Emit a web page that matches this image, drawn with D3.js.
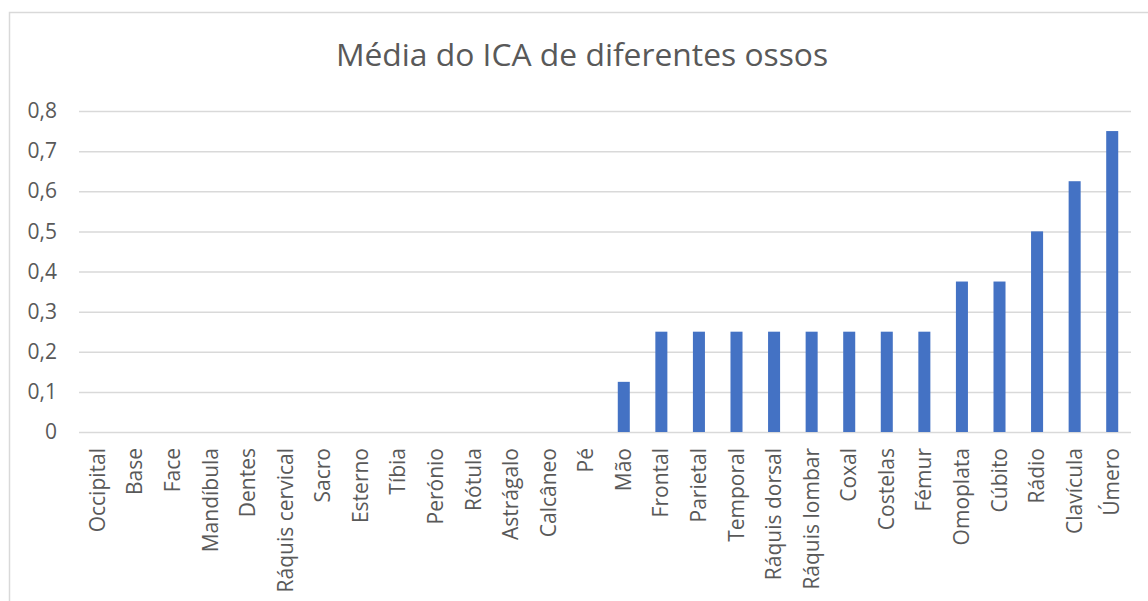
<!DOCTYPE html>
<html>
<head>
<meta charset="utf-8">
<script src="https://cdn.jsdelivr.net/npm/d3@7"></script>
<style>
  html, body { margin: 0; padding: 0; background: #fff; }
  svg { display: block; }
  svg text { font-family: "Open Sans", "Noto Sans", sans-serif; }
</style>
</head>
<body>
<svg id="chart" width="1148" height="601"></svg>
<script>
// Bone categories and mean ICA values
const categories = [
  "Occipital", "Base", "Face", "Mandíbula", "Dentes", "Ráquis cervical",
  "Sacro", "Esterno", "Tíbia", "Perónio", "Rótula", "Astrágalo", "Calcâneo",
  "Pé", "Mão", "Frontal", "Parietal", "Temporal", "Ráquis dorsal",
  "Ráquis lombar", "Coxal", "Costelas", "Fémur", "Omoplata", "Cúbito",
  "Rádio", "Clavícula", "Úmero"
];
const values = [
  0, 0, 0, 0, 0, 0, 0, 0, 0, 0, 0, 0, 0, 0,
  0.125, 0.25, 0.25, 0.25, 0.25, 0.25, 0.25, 0.25, 0.25,
  0.375, 0.375, 0.5, 0.625, 0.75
];
const yTicks = [0, 0.1, 0.2, 0.3, 0.4, 0.5, 0.6, 0.7, 0.8];
const title = "Média do ICA de diferentes ossos";

const svg = d3.select("#chart");
const plot = { left: 79, right: 1131, top: 111, bottom: 432 };

// Outer chart frame
svg.append("rect")
  .attr("x", 9.5).attr("y", 12.5)
  .attr("width", 1160).attr("height", 620)
  .attr("fill", "#fff").attr("stroke", "#d9d9d9").attr("stroke-width", 1.5);

const x = d3.scaleBand()
  .domain(categories)
  .range([plot.left, plot.right])
  .paddingInner(0.68).paddingOuter(0.34);

const y = d3.scaleLinear().domain([0, 0.8]).range([plot.bottom, plot.top]);

const fmt = v => d3.format(".1f")(v).replace(".", ",");

// Horizontal gridlines and value labels
const yAxis = d3.axisLeft(y)
  .tickValues(yTicks)
  .tickSize(-(plot.right - plot.left))
  .tickPadding(22)
  .tickFormat(d => d === 0 ? "0" : fmt(d));

const gy = svg.append("g")
  .attr("transform", `translate(${plot.left},0)`)
  .call(yAxis)
  .attr("font-family", null).attr("font-size", null);
gy.select(".domain").remove();
gy.selectAll(".tick line").attr("stroke", "#d9d9d9").attr("stroke-width", 1.5);
gy.selectAll(".tick text")
  .attr("fill", "#595959")
  .style("font-size", "21px");

// Bars
svg.append("g").selectAll("rect")
  .data(categories.map((c, i) => ({ c, v: values[i] })))
  .join("rect")
  .attr("x", d => x(d.c))
  .attr("y", d => y(d.v))
  .attr("width", x.bandwidth())
  .attr("height", d => y(0) - y(d.v))
  .attr("fill", "#4472c4");

// Category axis with rotated labels
const xAxis = d3.axisBottom(x).tickSize(0).tickPadding(0);
const gx = svg.append("g")
  .attr("transform", `translate(0,${plot.bottom})`)
  .call(xAxis)
  .attr("font-family", null).attr("font-size", null);
gx.select(".domain").remove();
gx.selectAll(".tick text")
  .attr("fill", "#595959")
  .style("font-size", "21px")
  .attr("text-anchor", "end")
  .attr("dy", null)
  .attr("y", 0)
  .attr("transform", "translate(7,16) rotate(-90)");

// Title
svg.append("text")
  .attr("x", 582).attr("y", 66)
  .attr("text-anchor", "middle")
  .attr("fill", "#595959")
  .style("font-size", "31.8px")
  .text(title);
</script>
</body>
</html>
